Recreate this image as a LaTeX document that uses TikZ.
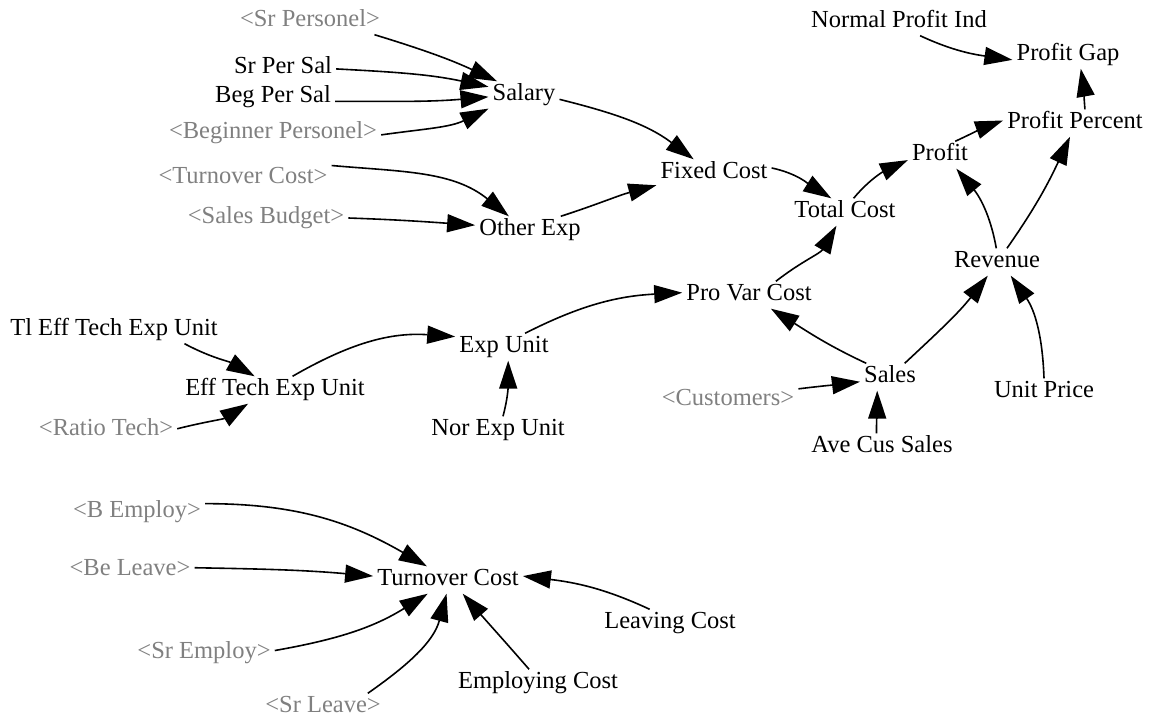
\documentclass[tikz,border=0pt]{standalone}
\usepackage{fontspec}
\setmainfont{Liberation Serif}
\usetikzlibrary{arrows.meta}
\definecolor{ghostgray}{RGB}{128,128,128}
\begin{document}
\begin{tikzpicture}[x=1pt,y=1pt,
  cvar/.style={inner xsep=4pt, inner ysep=3pt, text height=16pt, text depth=5pt,
               font=\fontsize{24.5}{29}\selectfont},
  ghostvar/.style={cvar, text=ghostgray},
  link/.style={line width=1.6pt, -{Triangle[length=28pt,width=18pt]}}]
\useasboundingbox (0,0) rectangle (1151,-722);

% --- salary and fixed cost block
\node[ghostvar] (srpers)   at (310,-21)  {<Sr Personel>};
\node[cvar]     (srsal)    at (283,-68)  {Sr Per Sal};
\node[cvar]     (begsal)   at (273,-97)  {Beg Per Sal};
\node[ghostvar] (beginner) at (273,-133) {<Beginner Personel>};
\node[ghostvar] (tcghost)  at (243,-178) {<Turnover Cost>};
\node[ghostvar] (salesbud) at (266,-218) {<Sales Budget>};
\node[cvar]     (salary)   at (524,-95)  {Salary};
\node[cvar]     (othexp)   at (530,-230) {Other Exp};
\node[cvar]     (fixed)    at (714,-173) {Fixed Cost};
\node[cvar]     (total)    at (845,-212) {Total Cost};

% --- profit block
\node[cvar]     (profit)   at (940,-155) {Profit};
\node[cvar]     (ppct)     at (1075,-123) {Profit Percent};
\node[cvar]     (npi)      at (899,-22)  {Normal Profit Ind};
\node[cvar]     (pgap)     at (1068,-55) {Profit Gap};
\node[cvar]     (revenue)  at (997,-262) {Revenue};

% --- variable cost and sales block
\node[cvar]     (provar)   at (749,-295) {Pro Var Cost};
\node[cvar]     (expunit)  at (504,-347) {Exp Unit};
\node[cvar]     (norexp)   at (498,-430) {Nor Exp Unit};
\node[cvar]     (effexp)   at (275,-390) {Eff Tech Exp Unit};
\node[cvar]     (tlexp)    at (114,-330) {Tl Eff Tech Exp Unit};
\node[ghostvar] (ratio)    at (106,-430) {<Ratio Tech>};
\node[cvar]     (sales)    at (890,-377) {Sales};
\node[ghostvar] (customers) at (728,-400) {<Customers>};
\node[cvar]     (avecus)   at (882,-447) {Ave Cus Sales};
\node[cvar]     (unitprice) at (1044,-392) {Unit Price};

% --- turnover cost block
\node[cvar]     (turnover) at (448,-580) {Turnover Cost};
\node[ghostvar] (bemploy)  at (137,-512) {<B Employ>};
\node[ghostvar] (beleave)  at (130,-570) {<Be Leave>};
\node[ghostvar] (sremploy) at (204,-653) {<Sr Employ>};
\node[ghostvar] (srleave)  at (323,-707) {<Sr Leave>};
\node[cvar]     (leaving)  at (670,-623) {Leaving Cost};
\node[cvar]     (employing) at (538,-683) {Employing Cost};

% --- links
\draw[link] (srpers.-12)   to[out=-17, in=155]  (salary.153);
\draw[link] (srsal.-1)     to[out=-3,  in=168]  (salary.167);
\draw[link] (begsal.-4)    to[out=0,   in=185]  (salary.183);
\draw[link] (beginner.-1)  to[out=8,   in=-154] (salary.201);
\draw[link] (tcghost.8)    to[out=-5,  in=141]  (othexp.147);
\draw[link] (salesbud.0)   to[out=-2,  in=176]  (othexp.175);
\draw[link] (salary.-7)    to[out=-14, in=143]  (fixed.146);
\draw[link] (othexp.24)    to[out=18,  in=-165] (fixed.192);
\draw[link] (fixed.5)      to[out=-12, in=148]  (total.135);
\draw[link] (total.58)     to[out=50,  in=-155] (profit.189);
\draw[link] (profit.42)    to[out=25,  in=-160] (ppct.178);
\draw[link] (ppct.54)      to[out=95,  in=-80]  (pgap.-47);
\draw[link] (npi.-33)      to[out=-25, in=172]  (pgap.185);
\draw[link] (revenue.93)   to[out=100, in=-50]  (profit.-40);
\draw[link] (revenue.54)   to[out=55,  in=-115] (ppct.-110);
\draw[link] (provar.27)    to[out=38,  in=-120] (total.-122);
\draw[link] (expunit.33)   to[out=27,  in=-177] (provar.178);
\draw[link] (sales.150)    to[out=155, in=-32]  (provar.-32);
\draw[link] (customers.9)  to[out=7,   in=-173] (sales.189);
\draw[link] (avecus.112)   to[out=90,  in=-90]  (sales.-133);
\draw[link] (sales.43)     to[out=43,  in=-128] (revenue.-124);
\draw[link] (unitprice.90) to[out=92,  in=-55]  (revenue.-45);
\draw[link] (tlexp.-11)    to[out=-28, in=150]  (effexp.146);
\draw[link] (ratio.1)      to[out=14,  in=-148] (effexp.207);
\draw[link] (effexp.38)    to[out=30,  in=176]  (expunit.168);
\draw[link] (norexp.70)    to[out=75,  in=-90]  (expunit.-73);
\draw[link] (bemploy.7)    to[out=0,   in=150]  (turnover.147);
\draw[link] (beleave.2)    to[out=-1,  in=175]  (turnover.177);
\draw[link] (sremploy.2)   to[out=10,  in=-148] (turnover.214);
\draw[link] (srleave.17)   to[out=35,  in=-105] (turnover.-96);
\draw[link] (leaving.146)  to[out=155, in=-7]   (turnover.3);
\draw[link] (employing.123) to[out=131, in=-49] (turnover.-43);
\end{tikzpicture}
\end{document}
